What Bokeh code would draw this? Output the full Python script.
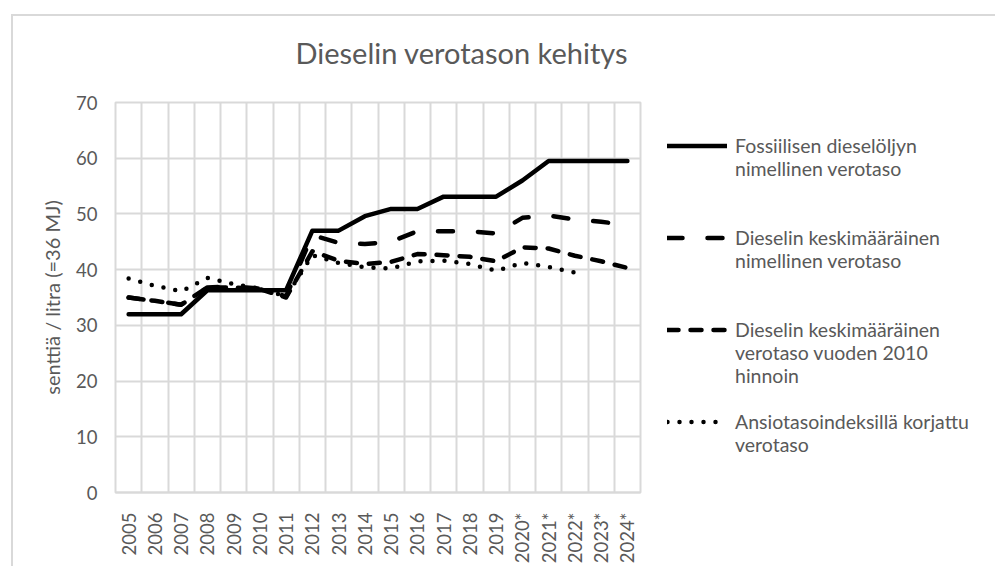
import math
import numpy as np
from bokeh.plotting import figure
from bokeh.models import FixedTicker, Legend, LegendItem, Range1d
from bokeh.embed import file_html
from bokeh.resources import INLINE

# ---- data ----
years = ["2005", "2006", "2007", "2008", "2009", "2010", "2011", "2012", "2013", "2014",
         "2015", "2016", "2017", "2018", "2019", "2020*", "2021*", "2022*", "2023*", "2024*"]
fossil = [32.0, 32.0, 32.0, 36.3, 36.3, 36.3, 36.3, 47.0, 47.0, 49.6,
          50.9, 50.9, 53.1, 53.1, 53.1, 56.0, 59.5, 59.5, 59.5, 59.5]
avg_nominal = [35.0, 34.4, 33.7, 36.8, 37.0, 36.6, 35.2, 46.2, 44.8, 44.6,
               45.0, 46.9, 46.9, 46.9, 46.5, 49.3, 49.7, 49.0, 48.6, 48.0]
avg_2010 = [35.0, 34.4, 33.7, 36.8, 36.8, 36.5, 35.0, 43.3, 41.6, 41.0,
            41.4, 42.8, 42.6, 42.3, 41.5, 44.0, 43.8, 42.5, 41.5, 40.3]
wage_adj = [38.4, 37.1, 36.1, 38.5, 37.4, 36.6, 35.2, 42.6, 41.2, 40.4,
            40.2, 41.5, 41.6, 41.0, 39.8, 41.2, 40.5, 39.5, float("nan"), float("nan")]

series_labels = [
    ["Fossiilisen dieselöljyn", "nimellinen verotaso"],
    ["Dieselin keskimääräinen", "nimellinen verotaso"],
    ["Dieselin keskimääräinen", "verotaso vuoden 2010", "hinnoin"],
    ["Ansiotasoindeksillä korjattu", "verotaso"],
]
legend_gaps = [2, 2, 1, 0]   # blank legend rows after each entry
y_ticks = [0, 10, 20, 30, 40, 50, 60, 70]
chart_title = "Dieselin verotason kehitys"
y_title = "senttiä / litra (=36 MJ)"

FONT = "Lato"
GREY = "#595959"
GRID = "#d9d9d9"

x = list(range(len(years)))

p = figure(frame_width=525, frame_height=390, output_backend="svg", toolbar_location=None,
           x_range=Range1d(-0.5, len(years) - 0.5), y_range=Range1d(y_ticks[0], y_ticks[-1]),
           min_border_left=115, min_border_right=0, min_border_top=102,
           min_border_bottom=0,
           background_fill_color="white", border_fill_color=None)
# light chart-area border (left and top edges, as in the original)
p.styles = {
    "background-color": "white",
    "background-image": f"linear-gradient({GRID},{GRID}), linear-gradient({GRID},{GRID})",
    "background-size": "2px 100%, 100% 2px",
    "background-position": "11px 14px, 11px 14px",
    "background-repeat": "no-repeat",
    "margin-bottom": "-20px",
}
p.outline_line_color = GRID
p.outline_line_width = 2

# grid
p.xgrid.ticker = FixedTicker(ticks=[i - 0.5 for i in range(len(years) + 1)])
p.ygrid.ticker = FixedTicker(ticks=y_ticks)
for g in (p.xgrid, p.ygrid):
    g.grid_line_color = GRID
    g.grid_line_width = 2

# axes
p.xaxis.ticker = FixedTicker(ticks=x)
p.xaxis.major_label_overrides = {i: lab for i, lab in enumerate(years)}
p.xaxis.major_label_orientation = math.pi / 2
p.yaxis.ticker = FixedTicker(ticks=y_ticks)
for ax in (p.xaxis, p.yaxis):
    ax.major_tick_line_color = None
    ax.minor_tick_line_color = None
    ax.major_label_text_font = FONT
    ax.major_label_text_font_size = "18.5px"
    ax.major_label_text_color = GREY
p.xaxis.axis_line_color = GRID
p.xaxis.axis_line_width = 2
p.yaxis.axis_line_color = None
p.xaxis.major_label_standoff = 14
p.yaxis.major_label_standoff = 12
p.yaxis.axis_label = y_title
p.yaxis.axis_label_text_font = FONT
p.yaxis.axis_label_text_font_size = "20px"
p.yaxis.axis_label_text_font_style = "normal"
p.yaxis.axis_label_text_color = GREY
p.yaxis.axis_label_standoff = 9

# title
p.title.text = chart_title
p.title.text_font = FONT
p.title.text_font_size = "29px"
p.title.text_font_style = "normal"
p.title.text_color = GREY
p.title.align = "left"
p.title.vertical_align = "top"
p.title.offset = 180
p.title.standoff = 62

# lines
common = dict(line_color="black", line_width=4.5, line_join="round", line_cap="round")
r1 = p.line(x, fossil, **common)
r2 = p.line(x, avg_nominal, line_dash="15 25", **common)
r3 = p.line(x, avg_2010, line_dash="11 12", **common)
r4 = p.line(x, np.array(wage_adj, dtype=float), line_dash="0 12", **common)
blank = p.line([], [], line_color=None)

# legend: one row per text line, sample line on the first row of each entry
items = []
for r, lines, gap in zip([r1, r2, r3, r4], series_labels, legend_gaps):
    for k, txt in enumerate(lines):
        items.append(LegendItem(label=txt, renderers=[r if k == 0 else blank]))
    for _ in range(gap):
        items.append(LegendItem(label=" ", renderers=[blank]))

legend = Legend(items=items, location=(27, 36), margin=22, padding=0, spacing=0,
                border_line_color=None, background_fill_alpha=0,
                glyph_width=60, glyph_height=23, label_standoff=8, label_height=23,
                label_text_font=FONT, label_text_font_size="19.5px",
                label_text_color=GREY)
p.add_layout(legend, "right")

open("out.html", "w").write(file_html(p, INLINE))
